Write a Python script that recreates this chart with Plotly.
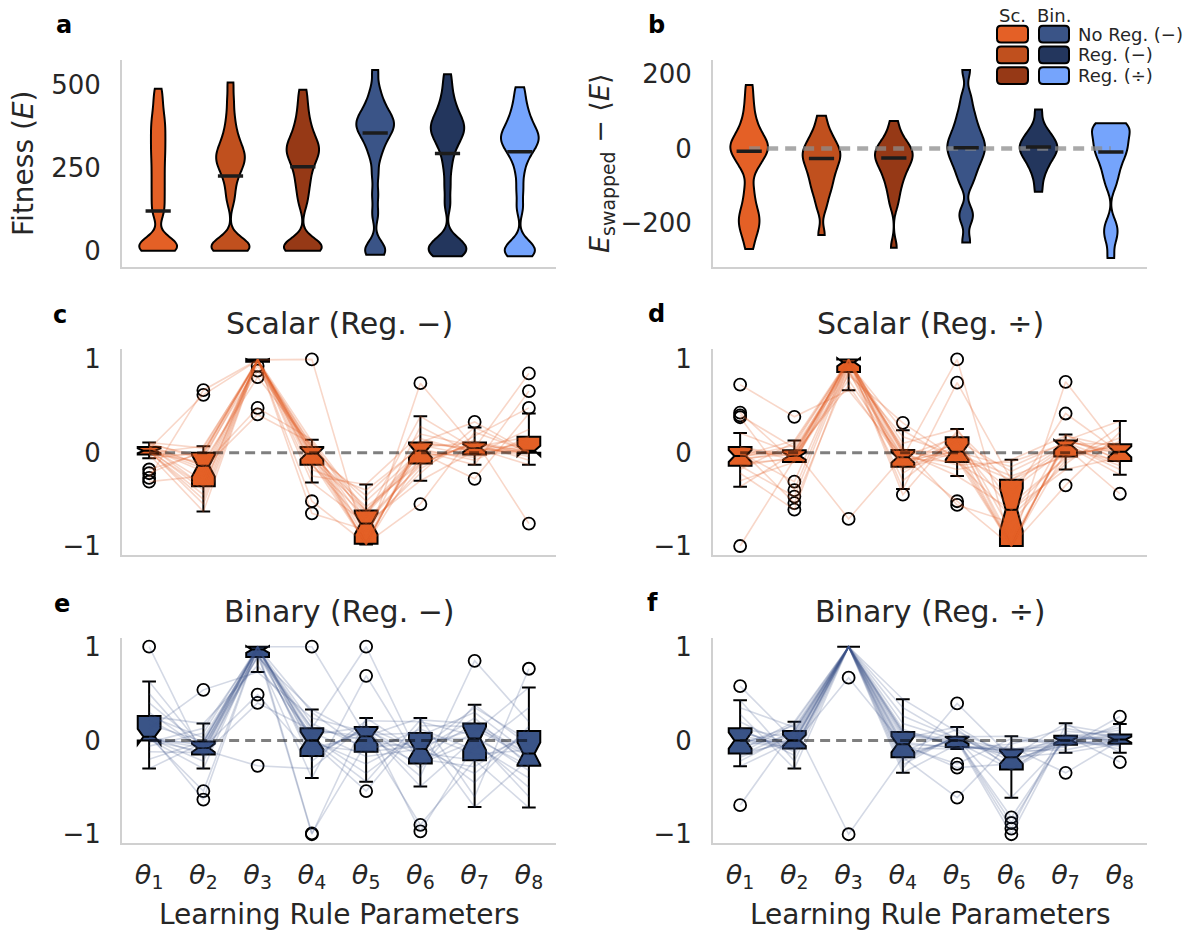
import plotly.graph_objects as go

W, H = 1194, 938
FONT = "DejaVu Sans"
TXT = "#262626"

# ======================= DATA =======================
group_names = ["Sc. No Reg. (−)", "Sc. Reg. (−)", "Sc. Reg. (÷)",
               "Bin. No Reg. (−)", "Bin. Reg. (−)", "Bin. Reg. (÷)"]
group_colors = ["#E46026", "#C0501E", "#963916", "#3A5487", "#23365D", "#75A4FC"]

# panel a: fitness samples per group
fit_sc_noreg = [0, 2, 5, 8, 12, 16, 21, 27, 34, 105, 125, 148, 170, 192, 214, 236, 258,
                280, 300, 320, 340, 360, 380, 400, 425, 455, 488]
fit_sc_sub = [0, 2, 5, 9, 13, 18, 24, 32, 150, 185, 215, 235, 250, 262, 272, 282, 292,
              302, 315, 330, 350, 375, 410, 455, 507]
fit_sc_div = [0, 2, 5, 8, 12, 16, 21, 27, 140, 170, 195, 215, 235, 252, 266, 278, 288,
              297, 305, 313, 322, 332, 344, 358, 375, 395, 420, 450, 485]
fit_bin_noreg = [-12, -5, 5, 18, 110, 170, 230, 280, 305, 325, 340, 352, 362, 370, 378,
                 386, 394, 402, 412, 425, 440, 460, 490, 545]
fit_bin_sub = [-17, -12, -6, 0, 5, 11, 18, 26, 35, 140, 195, 245, 280, 305, 322, 335,
               346, 355, 364, 372, 380, 389, 399, 411, 425, 442, 465, 495, 532]
fit_bin_div = [-17, -10, -3, 5, 13, 22, 130, 185, 235, 270, 290, 304, 316, 325, 333,
               341, 349, 358, 368, 380, 395, 412, 432, 460, 493]
fit_center = [120, 225, 253, 355, 293, 298]

# panel b: E_swapped - <E> samples per group
swap_sc_noreg = [-270, -240, -222, -208, -195, -183, -170, -152, -128, -100, -60, -45,
                 -32, -22, -14, -7, 0, 6, 12, 19, 27, 36, 48, 62, 80, 105, 135, 171]
swap_sc_sub = [-232, -160, -130, -110, -95, -80, -66, -54, -43, -33, -24, -16, -8, 0,
               10, 22, 36, 55, 88]
swap_sc_div = [-266, -150, -120, -98, -80, -66, -54, -43, -34, -26, -19, -12, -5, 3, 12,
               24, 42, 74]
swap_bin_noreg = [-252, -190, -168, -95, -70, -50, -35, -22, -10, 0, 10, 20, 32,
                  46, 62, 82, 105, 140, 211]
swap_bin_sub = [-116, -75, -50, -35, -22, -12, -4, 3, 10, 18, 28, 40, 58, 105]
swap_bin_div = [-294, -245, -222, -200, -100, -75, -55, -38, -24, -13, -4, 6, 15,
                25, 35, 45, 55, 62, 66, 68]
swap_center = [-7, -27, -25, 2, 4, -9]

param_labels = ["<i>θ</i><sub>%d</sub>" % k for k in range(1, 9)]

# panels c-f: learning-rule parameter values of 24 runs (values per parameter, ascending)
scalar_sub = [
    [-0.31, -0.27, -0.22, -0.18, -0.06, -0.02, -0.02, -0.01, 0.0, 0.01, 0.015, 0.02, 0.02, 0.03, 0.04, 0.045, 0.05, 0.06, 0.06, 0.07, 0.08, 0.09, 0.10, 0.11],
    [-0.63, -0.55, -0.50, -0.45, -0.40, -0.36, -0.36, -0.30, -0.25, -0.20, -0.17, -0.14, -0.14, -0.10, -0.07, -0.04, -0.02, 0.0, 0.0, 0.02, 0.05, 0.07, 0.62, 0.67],
    [0.41, 0.48, 0.81, 0.88, 0.93, 0.975, 0.975, 0.98, 0.985, 0.99, 0.99, 0.995, 0.995, 0.997, 0.998, 1.0, 1.0, 1.0, 1.0, 1.0, 1.0, 1.0, 1.0, 1.0],
    [-0.65, -0.52, -0.32, -0.25, -0.18, -0.13, -0.13, -0.10, -0.07, -0.05, -0.03, -0.01, -0.01, 0.0, 0.02, 0.03, 0.05, 0.06, 0.06, 0.08, 0.10, 0.12, 0.14, 1.0],
    [-0.985, -0.985, -0.98, -0.98, -0.98, -0.975, -0.975, -0.93, -0.88, -0.83, -0.79, -0.76, -0.76, -0.72, -0.69, -0.66, -0.64, -0.62, -0.62, -0.58, -0.52, -0.46, -0.40, -0.34],
    [-0.55, -0.30, -0.22, -0.17, -0.14, -0.115, -0.115, -0.08, -0.05, -0.02, 0.0, 0.02, 0.02, 0.04, 0.06, 0.08, 0.10, 0.11, 0.11, 0.15, 0.20, 0.28, 0.39, 0.745],
    [-0.28, -0.13, -0.08, -0.05, -0.03, -0.02, -0.02, 0.0, 0.02, 0.03, 0.04, 0.05, 0.05, 0.06, 0.07, 0.09, 0.10, 0.11, 0.11, 0.14, 0.18, 0.22, 0.27, 0.33],
    [-0.76, -0.13, -0.08, -0.04, -0.02, 0.0, 0.0, 0.005, 0.01, 0.012, 0.015, 0.02, 0.02, 0.04, 0.07, 0.10, 0.14, 0.17, 0.17, 0.25, 0.42, 0.48, 0.66, 0.85],
]
scalar_div = [
    [-1.0, -0.365, -0.30, -0.22, -0.18, -0.14, -0.14, -0.11, -0.08, -0.06, -0.05, -0.035, -0.035, -0.02, 0.0, 0.02, 0.04, 0.06, 0.06, 0.21, 0.38, 0.40, 0.43, 0.73],
    [-0.61, -0.54, -0.47, -0.40, -0.31, -0.10, -0.10, -0.08, -0.07, -0.06, -0.05, -0.035, -0.035, -0.02, -0.01, 0.0, 0.01, 0.025, 0.025, 0.05, 0.08, 0.11, 0.13, 0.385],
    [-0.71, 0.67, 0.72, 0.78, 0.83, 0.865, 0.865, 0.89, 0.92, 0.94, 0.96, 0.97, 0.97, 0.98, 0.99, 0.99, 1.0, 1.0, 1.0, 1.0, 1.0, 1.0, 1.0, 1.0],
    [-0.45, -0.39, -0.30, -0.22, -0.18, -0.15, -0.15, -0.12, -0.10, -0.08, -0.06, -0.05, -0.05, -0.04, -0.02, 0.0, 0.01, 0.03, 0.03, 0.06, 0.10, 0.17, 0.24, 0.32],
    [-0.56, -0.52, -0.25, -0.18, -0.13, -0.10, -0.10, -0.07, -0.05, -0.03, -0.01, 0.01, 0.01, 0.03, 0.06, 0.10, 0.13, 0.165, 0.165, 0.20, 0.23, 0.255, 0.75, 1.0],
    [-1.0, -1.0, -1.0, -1.0, -1.0, -1.0, -1.0, -0.95, -0.85, -0.75, -0.68, -0.61, -0.61, -0.55, -0.48, -0.40, -0.34, -0.29, -0.29, -0.25, -0.20, -0.15, -0.10, -0.075],
    [-0.35, -0.18, -0.12, -0.08, -0.06, -0.04, -0.04, -0.02, 0.01, 0.04, 0.06, 0.08, 0.08, 0.09, 0.10, 0.11, 0.12, 0.13, 0.13, 0.15, 0.18, 0.195, 0.42, 0.76],
    [-0.44, -0.235, -0.18, -0.14, -0.11, -0.09, -0.09, -0.07, -0.05, -0.02, 0.0, 0.01, 0.01, 0.03, 0.05, 0.07, 0.08, 0.09, 0.09, 0.12, 0.16, 0.22, 0.28, 0.34],
]
binary_sub = [
    [-0.30, -0.20, -0.12, -0.06, -0.02, 0.0, 0.0, 0.01, 0.02, 0.025, 0.03, 0.04, 0.04, 0.07, 0.12, 0.17, 0.22, 0.26, 0.26, 0.30, 0.40, 0.50, 0.63, 1.0],
    [-0.63, -0.54, -0.30, -0.22, -0.18, -0.15, -0.15, -0.13, -0.12, -0.10, -0.09, -0.08, -0.08, -0.07, -0.05, -0.03, -0.02, -0.01, -0.01, 0.03, 0.08, 0.13, 0.18, 0.54],
    [-0.27, 0.40, 0.49, 0.73, 0.80, 0.89, 0.89, 0.91, 0.93, 0.95, 0.96, 0.97, 0.97, 0.98, 0.99, 0.99, 1.0, 1.0, 1.0, 1.0, 1.0, 1.0, 1.0, 1.0],
    [-1.0, -0.99, -0.40, -0.30, -0.22, -0.165, -0.165, -0.12, -0.08, -0.05, -0.02, 0.0, 0.0, 0.03, 0.06, 0.09, 0.11, 0.13, 0.13, 0.18, 0.24, 0.30, 0.33, 1.0],
    [-0.54, -0.44, -0.35, -0.25, -0.17, -0.12, -0.12, -0.08, -0.03, 0.0, 0.02, 0.045, 0.045, 0.06, 0.09, 0.11, 0.13, 0.145, 0.145, 0.18, 0.21, 0.24, 0.69, 1.0],
    [-0.97, -0.90, -0.49, -0.38, -0.30, -0.245, -0.245, -0.20, -0.16, -0.13, -0.11, -0.09, -0.09, -0.06, -0.02, 0.02, 0.05, 0.08, 0.08, 0.12, 0.16, 0.20, 0.22, 0.24],
    [-0.71, -0.60, -0.45, -0.35, -0.28, -0.21, -0.21, -0.15, -0.10, -0.05, -0.01, 0.02, 0.02, 0.05, 0.09, 0.12, 0.15, 0.18, 0.18, 0.24, 0.30, 0.35, 0.38, 0.85],
    [-0.715, -0.60, -0.50, -0.40, -0.32, -0.27, -0.27, -0.24, -0.20, -0.17, -0.15, -0.14, -0.14, -0.10, -0.05, 0.0, 0.05, 0.10, 0.10, 0.15, 0.20, 0.35, 0.565, 0.765],
]
binary_div = [
    [-0.69, -0.275, -0.22, -0.18, -0.16, -0.14, -0.14, -0.10, -0.07, -0.04, -0.02, 0.0, 0.0, 0.02, 0.05, 0.08, 0.11, 0.13, 0.13, 0.20, 0.28, 0.35, 0.43, 0.58],
    [-0.30, -0.22, -0.16, -0.12, -0.10, -0.085, -0.085, -0.06, -0.04, -0.02, -0.01, 0.0, 0.0, 0.02, 0.04, 0.06, 0.08, 0.10, 0.10, 0.12, 0.14, 0.16, 0.18, 0.20],
    [-1.0, 0.67, 1.0, 1.0, 1.0, 1.0, 1.0, 1.0, 1.0, 1.0, 1.0, 1.0, 1.0, 1.0, 1.0, 1.0, 1.0, 1.0, 1.0, 1.0, 1.0, 1.0, 1.0, 1.0],
    [-0.345, -0.30, -0.26, -0.22, -0.20, -0.18, -0.18, -0.15, -0.12, -0.08, -0.06, -0.04, -0.04, -0.02, 0.02, 0.05, 0.07, 0.09, 0.09, 0.12, 0.18, 0.26, 0.35, 0.44],
    [-0.61, -0.29, -0.25, -0.09, -0.08, -0.07, -0.07, -0.05, -0.04, -0.02, -0.01, 0.0, 0.0, 0.005, 0.01, 0.02, 0.03, 0.04, 0.04, 0.06, 0.09, 0.12, 0.145, 0.395],
    [-1.0, -0.94, -0.88, -0.82, -0.61, -0.31, -0.31, -0.28, -0.25, -0.22, -0.20, -0.18, -0.18, -0.16, -0.14, -0.12, -0.11, -0.095, -0.095, -0.07, -0.04, -0.01, 0.02, 0.045],
    [-0.345, -0.13, -0.10, -0.07, -0.06, -0.045, -0.045, -0.03, -0.02, -0.01, -0.005, 0.0, 0.0, 0.01, 0.02, 0.03, 0.04, 0.05, 0.05, 0.07, 0.10, 0.13, 0.16, 0.185],
    [-0.23, -0.13, -0.09, -0.06, -0.05, -0.035, -0.035, -0.02, -0.01, 0.0, 0.005, 0.01, 0.01, 0.02, 0.03, 0.04, 0.05, 0.063, 0.063, 0.08, 0.11, 0.14, 0.175, 0.255],
]
# which run holds which rank of a parameter column (run index -> rank)
run_orders = [
    [11, 2, 18, 6, 14, 0, 21, 9, 16, 4, 12, 23, 7, 19, 1, 15, 10, 5, 20, 13, 3, 17, 8, 22],
    [5, 19, 12, 0, 22, 8, 15, 3, 10, 17, 1, 20, 13, 6, 23, 9, 2, 16, 11, 4, 18, 7, 21, 14],
    [16, 7, 1, 21, 10, 13, 4, 19, 0, 23, 8, 14, 2, 17, 11, 6, 22, 12, 3, 20, 9, 15, 5, 18],
    [2, 14, 22, 9, 5, 17, 11, 0, 20, 7, 15, 3, 18, 10, 23, 13, 6, 1, 16, 21, 12, 8, 19, 4],
]
order_c = [0, 1, 2, 3, 0, 1, 2, 3]
order_d = [1, 3, 0, 2, 3, 0, 1, 2]
order_e = [2, 0, 3, 1, 2, 3, 0, 1]
order_f = [3, 2, 1, 0, 1, 2, 3, 0]

# ======================= LAYOUT HELPERS =======================
def dx(p0, p1):
    return [p0 / W, p1 / W]

def dy(p0, p1):
    return [1 - p1 / H, 1 - p0 / H]

LEFT = (122, 556)
RIGHT = (713, 1147)
ROW1 = (55, 264)
ROW2 = (347, 556)
ROW3 = (640, 848)

fig = go.Figure()

# ---------- violins ----------
def add_violins(sets, centers, xa, ya, bw, zero_line=False):
    for i, (vals, col) in enumerate(zip(sets, group_colors)):
        fig.add_trace(go.Violin(
            x=[i] * len(vals), y=vals, xaxis=xa, yaxis=ya, width=0.52,
            scalemode="width", spanmode="hard", bandwidth=bw, points=False,
            fillcolor=col, line=dict(color="black", width=2), opacity=1,
            box=dict(visible=False), meanline=dict(visible=False),
            showlegend=False, hoverinfo="skip", name=group_names[i]))
    if zero_line:
        fig.add_trace(go.Scatter(
            x=[0, 5], y=[0, 0], xaxis=xa, yaxis=ya, mode="lines",
            line=dict(color="rgba(140,140,140,0.75)", width=4.5, dash="11px,7px"),
            showlegend=False, hoverinfo="skip"))
    fig.add_trace(go.Scatter(
        x=list(range(6)), y=centers, xaxis=xa, yaxis=ya, mode="markers",
        marker=dict(symbol="line-ew", size=18, line=dict(color="#1c1c1c", width=3.5)),
        showlegend=False, hoverinfo="skip"))

add_violins([fit_sc_noreg, fit_sc_sub, fit_sc_div, fit_bin_noreg, fit_bin_sub, fit_bin_div],
            fit_center, "x", "y", 25)
add_violins([swap_sc_noreg, swap_sc_sub, swap_sc_div, swap_bin_noreg, swap_bin_sub, swap_bin_div],
            swap_center, "x2", "y2", 22, zero_line=True)

# ---------- parameter panels ----------
def add_param_panel(cols, order, xa, ya, color, line_rgba):
    n_runs = len(cols[0])
    for r in range(n_runs):
        yv = [cols[j][run_orders[order[j]][r]] for j in range(8)]
        fig.add_trace(go.Scatter(
            x=list(range(8)), y=yv, xaxis=xa, yaxis=ya, mode="lines",
            line=dict(color=line_rgba, width=1.6), showlegend=False, hoverinfo="skip"))
    xs, ys = [], []
    for j, col in enumerate(cols):
        xs += [j] * len(col)
        ys += col
    fig.add_trace(go.Box(
        x=xs, y=ys, xaxis=xa, yaxis=ya, notched=True, width=0.42, whiskerwidth=0.6,
        boxpoints="outliers", jitter=0, pointpos=0, quartilemethod="linear",
        fillcolor=color, line=dict(color="black", width=2),
        marker=dict(symbol="circle-open", size=12, color="black",
                    line=dict(color="black", width=1.8)),
        showlegend=False, hoverinfo="skip"))
    fig.add_trace(go.Scatter(
        x=[0, 7], y=[0, 0], xaxis=xa, yaxis=ya, mode="lines",
        line=dict(color="rgba(0,0,0,0.5)", width=3, dash="10px,6px"),
        showlegend=False, hoverinfo="skip"))

ORANGE = "#E46026"
BLUE = "#3A5487"
add_param_panel(scalar_sub, order_c, "x3", "y3", ORANGE, "rgba(228,96,38,0.25)")
add_param_panel(scalar_div, order_d, "x4", "y4", ORANGE, "rgba(228,96,38,0.25)")
add_param_panel(binary_sub, order_e, "x5", "y5", BLUE, "rgba(58,84,135,0.22)")
add_param_panel(binary_div, order_f, "x6", "y6", BLUE, "rgba(58,84,135,0.22)")

# ---------- axes ----------
axis_common = dict(showline=True, linecolor="#d0d0d0", linewidth=2, showgrid=False,
                   zeroline=False, ticks="", tickfont=dict(family=FONT, size=26, color=TXT))

specs = [
    ("", LEFT, ROW1, [-0.5, 5.5], [-48, 574], [0, 250, 500], False),
    ("2", RIGHT, ROW1, [-0.5, 5.5], [-317, 237], [-200, 0, 200], False),
    ("3", LEFT, ROW2, [-0.5, 7.5], [-1.095, 1.116], [-1, 0, 1], False),
    ("4", RIGHT, ROW2, [-0.5, 7.5], [-1.095, 1.116], [-1, 0, 1], False),
    ("5", LEFT, ROW3, [-0.5, 7.5], [-1.095, 1.095], [-1, 0, 1], True),
    ("6", RIGHT, ROW3, [-0.5, 7.5], [-1.095, 1.095], [-1, 0, 1], True),
]
layout_axes = {}
for suf, xp, yp, xr, yr, yt, xlab in specs:
    xa = dict(axis_common, domain=dx(*xp), range=xr, anchor="y" + suf,
              showticklabels=xlab)
    if xlab:
        xa.update(tickmode="array", tickvals=list(range(8)), ticktext=param_labels,
                  ticklabelstandoff=6, tickfont=dict(family=FONT, size=27, color=TXT))
    ya = dict(axis_common, domain=dy(*yp), range=yr, anchor="x" + suf,
              tickmode="array", tickvals=yt, ticklabelstandoff=14)
    layout_axes["xaxis" + suf] = xa
    layout_axes["yaxis" + suf] = ya

fig.update_layout(**layout_axes)

# ---------- annotations ----------
ann = []
def text(x, y, s, size, bold=False, angle=0, xanchor="center", color=TXT, family=FONT):
    ann.append(dict(x=x / W, y=1 - y / H, xref="paper", yref="paper", text=s,
                    showarrow=False, xanchor=xanchor, yanchor="middle", textangle=angle,
                    font=dict(family=family, size=size, color=color)))

for lab, x, y in [("a", 64, 19), ("b", 656, 19), ("c", 60, 313),
                  ("d", 656, 312), ("e", 62, 606), ("f", 652, 605)]:
    text(x, y, "<b>%s</b>" % lab, 24, color="black")

cl = (LEFT[0] + LEFT[1]) / 2
cr = (RIGHT[0] + RIGHT[1]) / 2
text(cl, 322, "Scalar (Reg. −)", 30)
text(cr, 322, "Scalar (Reg. ÷)", 30)
text(cl, 613, "Binary (Reg. −)", 30)
text(cr, 613, "Binary (Reg. ÷)", 30)
text(cl, 920, "Learning Rule Parameters", 28)
text(cr, 920, "Learning Rule Parameters", 28)
text(24, 160, "Fitness (<i>E</i>)", 28, angle=-90)
text(602, 160, "<i>E</i><sub>swapped</sub> − ⟨<i>E</i>⟩", 27, angle=-90)

# legend
LEG_FONT = "DejaVu Sans"
text(1012, 10, "Sc.", 18, family=LEG_FONT)
text(1054, 10, "Bin.", 18, family=LEG_FONT)
rows_y = [(20, 37), (41, 58), (62, 79)]
row_labels = ["No Reg. (−)", "Reg. (−)", "Reg. (÷)"]
shapes = []

def rrect(x0, y0, x1, y1, r=4):
    X = lambda p: p / W
    Y = lambda p: 1 - p / H
    return (f"M {X(x0 + r)},{Y(y0)} L {X(x1 - r)},{Y(y0)} Q {X(x1)},{Y(y0)} {X(x1)},{Y(y0 + r)} "
            f"L {X(x1)},{Y(y1 - r)} Q {X(x1)},{Y(y1)} {X(x1 - r)},{Y(y1)} "
            f"L {X(x0 + r)},{Y(y1)} Q {X(x0)},{Y(y1)} {X(x0)},{Y(y1 - r)} "
            f"L {X(x0)},{Y(y0 + r)} Q {X(x0)},{Y(y0)} {X(x0 + r)},{Y(y0)} Z")

for k, (y0, y1) in enumerate(rows_y):
    for (x0, x1), col in [((997, 1028), group_colors[k]), ((1039, 1069), group_colors[3 + k])]:
        shapes.append(dict(type="path", path=rrect(x0, y0, x1, y1), xref="paper", yref="paper",
                           fillcolor=col, line=dict(color="black", width=2)))
    text(1076, (y0 + y1) / 2, row_labels[k], 18, xanchor="left", family=LEG_FONT)

fig.update_layout(
    width=W, height=H, autosize=False, margin=dict(l=0, r=0, t=0, b=0),
    paper_bgcolor="white", plot_bgcolor="white", showlegend=False,
    violinmode="overlay", boxmode="overlay",
    annotations=ann, shapes=shapes,
    font=dict(family=FONT, color=TXT),
)

fig.write_html("out.html")
